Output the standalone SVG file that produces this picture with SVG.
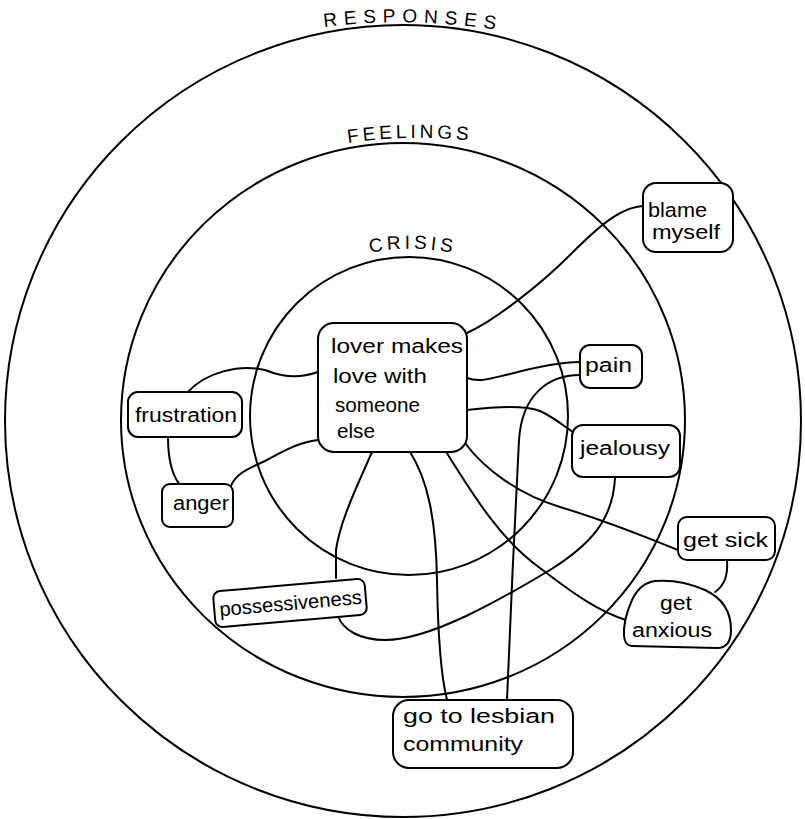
<svg xmlns="http://www.w3.org/2000/svg" width="805" height="819" viewBox="0 0 805 819">
<style>
  .ring { fill: none; stroke: #000; stroke-width: 2; }
  .box { fill: #fff; stroke: #000; stroke-width: 2; }
  .conn path { fill: none; stroke: #000; stroke-width: 2; stroke-linecap: round; }
  .lbl { font-family: "Liberation Sans", "DejaVu Sans", sans-serif; font-size: 20px; fill: #000; }
  .ttl { font-family: "Liberation Sans", "DejaVu Sans", sans-serif; font-size: 19px; fill: #000; }
</style>
<defs>
  <path id="arcR" d="M324,27 Q410,16 505,31"/>
  <path id="arcF" d="M348,143 Q408,134 475,141"/>
  <path id="arcC" d="M370,253 Q411,244 458,254"/>
</defs>
<rect width="805" height="819" fill="#fff"/>

<g id="rings">
  <ellipse class="ring" cx="403" cy="421" rx="398" ry="396"/>
  <ellipse class="ring" cx="403" cy="420" rx="282" ry="277"/>
  <circle class="ring" cx="409" cy="416" r="159"/>
  <text class="ttl" style="letter-spacing:6.7px"><textPath href="#arcR">RESPONSES</textPath></text>
  <text class="ttl" style="letter-spacing:3.8px"><textPath href="#arcF">FEELINGS</textPath></text>
  <text class="ttl" style="letter-spacing:3.8px"><textPath href="#arcC">CRISIS</textPath></text>
</g>

<g class="conn" id="connectors">
  <path d="M467,333 C495,320 540,285 570,255 C595,230 620,206 645,206"/>
  <path d="M467,378 C480,383 492,378 510,374 C540,366 560,362 580,362"/>
  <path d="M580,375 C548,375 522,395 519,440 C515,520 510,620 507,700"/>
  <path d="M467,410 C500,406 525,405 540,411 C555,418 562,425 573,432"/>
  <path d="M615,478 C613,520 590,545 550,570 C500,600 430,640 385,640 C360,640 343,630 338,616"/>
  <path d="M372,452 C360,480 340,520 336,550 L336,578"/>
  <path d="M410,452 C428,480 436,520 437,580 C438,640 442,680 447,700"/>
  <path d="M465,443 C485,470 520,495 560,507 C610,522 640,535 678,550"/>
  <path d="M445,450 C470,490 500,540 540,568 C575,595 600,612 626,620"/>
  <path d="M318,372 C300,378 285,378 265,370 C240,364 205,372 187,393"/>
  <path d="M318,440 C300,442 285,450 265,461 C245,470 235,475 231,486"/>
  <path d="M168,437 C168,460 172,475 180,485"/>
  <path d="M727,560 C728,575 725,585 715,592"/>
</g>

<g id="crisis">
  <rect class="box" x="318" y="323" width="149" height="129" rx="16"/>
  <text class="lbl" x="331" y="353" font-size="22" textLength="132" lengthAdjust="spacingAndGlyphs">lover makes</text>
  <text class="lbl" x="333" y="383" font-size="22" textLength="94" lengthAdjust="spacingAndGlyphs">love with</text>
  <text class="lbl" x="335" y="412" font-size="22" textLength="85" lengthAdjust="spacingAndGlyphs">someone</text>
  <text class="lbl" x="337" y="438" font-size="22" textLength="38" lengthAdjust="spacingAndGlyphs">else</text>
</g>

<g id="frustration">
  <rect class="box" x="128" y="392" width="114" height="45" rx="10"/>
  <text class="lbl" x="135" y="422" textLength="102" lengthAdjust="spacingAndGlyphs">frustration</text>
</g>

<g id="anger">
  <rect class="box" x="162" y="484" width="71" height="43" rx="8"/>
  <text class="lbl" x="173" y="510" textLength="56" lengthAdjust="spacingAndGlyphs">anger</text>
</g>

<g id="blame-myself">
  <rect class="box" x="643" y="183" width="90" height="69" rx="13"/>
  <text class="lbl" x="648" y="217" textLength="59" lengthAdjust="spacingAndGlyphs">blame</text>
  <text class="lbl" x="652" y="239" textLength="68" lengthAdjust="spacingAndGlyphs">myself</text>
</g>

<g id="pain">
  <rect class="box" x="580" y="345" width="62" height="43" rx="10"/>
  <text class="lbl" x="585" y="372" textLength="47" lengthAdjust="spacingAndGlyphs">pain</text>
</g>

<g id="jealousy">
  <rect class="box" x="572" y="425" width="108" height="52" rx="11"/>
  <text class="lbl" x="580" y="455" textLength="90" lengthAdjust="spacingAndGlyphs">jealousy</text>
</g>

<g id="get-sick">
  <rect class="box" x="678" y="517" width="97" height="43" rx="9"/>
  <text class="lbl" x="683" y="547" textLength="85" lengthAdjust="spacingAndGlyphs">get sick</text>
</g>

<g id="get-anxious">
  <path class="box" d="M632,646 L717,648 Q731,648 731,630 Q731,602 705,590 Q680,579 655,581 Q640,583 632,600 Q623,620 624,636 Q625,646 632,646 Z"/>
  <text class="lbl" x="660" y="610" textLength="32" lengthAdjust="spacingAndGlyphs">get</text>
  <text class="lbl" x="632" y="637" textLength="80" lengthAdjust="spacingAndGlyphs">anxious</text>
</g>

<g id="possessiveness" transform="rotate(-5 290 603)">
  <rect class="box" x="214" y="585" width="152" height="36" rx="7"/>
  <text class="lbl" x="219" y="610" textLength="143" lengthAdjust="spacingAndGlyphs">possessiveness</text>
</g>

<g id="go-to-lesbian-community">
  <rect class="box" x="393" y="700" width="180" height="68" rx="16"/>
  <text class="lbl" x="403" y="723" textLength="152" lengthAdjust="spacingAndGlyphs">go to lesbian</text>
  <text class="lbl" x="403" y="751" textLength="120" lengthAdjust="spacingAndGlyphs">community</text>
</g>
</svg>
